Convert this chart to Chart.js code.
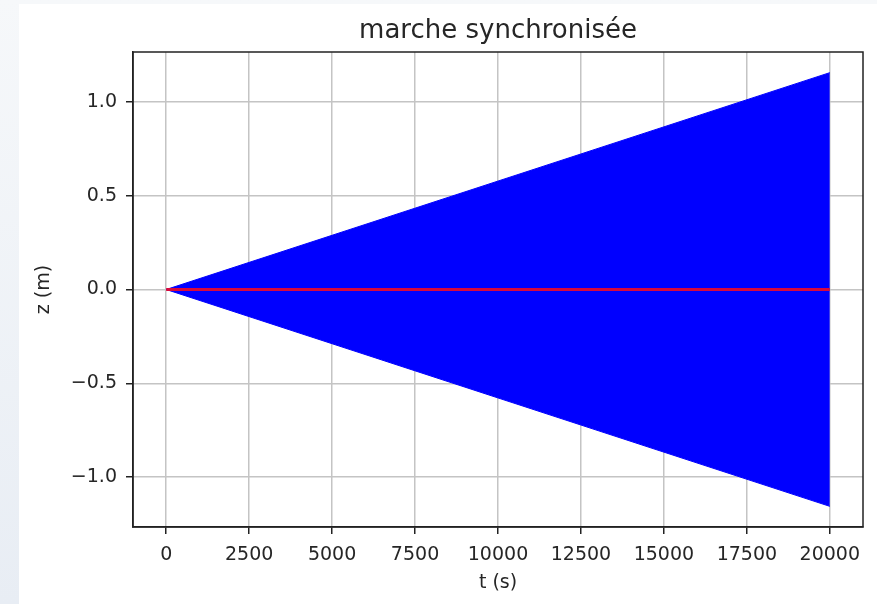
<!DOCTYPE html>
<html>
<head>
<meta charset="utf-8">
<script src="https://cdn.jsdelivr.net/npm/chart.js@4"></script>
<style>
  html, body { margin: 0; padding: 0; }
  body { width: 877px; height: 604px; background: linear-gradient(#f6f8fa, #e8edf4); overflow: hidden; }
  #wrap { position: absolute; left: 0; top: 0; width: 877px; height: 604px; }
</style>
</head>
<body>
<div id="wrap"><canvas id="chart" width="877" height="604"></canvas></div>
<script>
// envelope of z(t): amplitude grows from 0 to ~1.155 m over 20000 s
const tEnv = [0, 20000];
const zUpper = [0, 1.155];
const zLower = [0, -1.155];
const zRef = [0, 0];

const xTicks = [0, 2500, 5000, 7500, 10000, 12500, 15000, 17500, 20000];
const yTicks = [-1.0, -0.5, 0.0, 0.5, 1.0];

const chartTitle = 'marche synchronisée';

const pts = (xs, ys) => xs.map((x, i) => ({x: x, y: ys[i]}));

const font = 'DejaVu Sans';
const txt = '#262626';

// white panel behind the figure, box around the axes, title centred on the axes
const frame = {
  id: 'frame',
  beforeDraw(chart) {
    const c = chart.ctx;
    c.save();
    c.fillStyle = '#ffffff';
    c.fillRect(19, 4, chart.width - 19, chart.height - 4);
    c.restore();
  },
  afterDraw(chart) {
    const a = chart.chartArea;
    const c = chart.ctx;
    c.save();
    c.strokeStyle = '#222';
    c.lineWidth = 1.5;
    c.strokeRect(a.left, a.top, a.right - a.left, a.bottom - a.top);
    c.fillStyle = txt;
    c.font = '26px "' + font + '"';
    c.textAlign = 'center';
    c.textBaseline = 'middle';
    c.fillText(chartTitle, (a.left + a.right) / 2, 31);
    c.restore();
  }
};

new Chart(document.getElementById('chart'), {
  type: 'scatter',
  data: {
    datasets: [
      {
        data: pts(tEnv, zRef),
        showLine: true,
        borderColor: '#d8083c',
        borderWidth: 3,
        pointRadius: 0,
        fill: false,
        order: 0
      },
      {
        data: pts(tEnv, zUpper),
        showLine: true,
        borderColor: '#0000ff',
        backgroundColor: '#0000ff',
        borderWidth: 1,
        pointRadius: 0,
        fill: '+1',
        order: 1
      },
      {
        data: pts(tEnv, zLower),
        showLine: true,
        borderColor: '#0000ff',
        borderWidth: 1,
        pointRadius: 0,
        fill: false,
        order: 1
      }
    ]
  },
  options: {
    responsive: false,
    animation: false,
    layout: { padding: { left: 20, right: 14, top: 52, bottom: 6 } },
    plugins: {
      legend: { display: false },
      tooltip: { enabled: false },
      title: { display: false }
    },
    scales: {
      x: {
        type: 'linear',
        min: -1000,
        max: 21000,
        afterBuildTicks: s => { s.ticks = xTicks.map(v => ({value: v})); },
        afterFit: s => { s.height = 71; },
        ticks: {
          color: txt,
          font: { family: font, size: 19 },
          padding: 10,
          maxRotation: 0,
          callback: v => String(v)
        },
        grid: { color: '#c4c4c4', lineWidth: 1.5, tickColor: '#222', tickLength: 7 },
        border: { color: '#222', width: 1.5 },
        title: {
          display: true,
          text: 't (s)',
          color: txt,
          font: { family: font, size: 19 },
          padding: { top: 0, bottom: 4 }
        }
      },
      y: {
        type: 'linear',
        min: -1.265,
        max: 1.265,
        afterBuildTicks: s => { s.ticks = yTicks.map(v => ({value: v})); },
        afterFit: s => { s.width = 113; },
        ticks: {
          color: txt,
          font: { family: font, size: 19 },
          padding: 9,
          callback: v => v.toFixed(1).replace('-', '\u2212')
        },
        grid: { color: '#c4c4c4', lineWidth: 1.5, tickColor: '#222', tickLength: 7 },
        border: { color: '#222', width: 1.5 },
        title: {
          display: true,
          text: 'z (m)',
          color: txt,
          font: { family: font, size: 19 },
          padding: { top: 13, bottom: 0 }
        }
      }
    }
  },
  plugins: [frame]
});
</script>
</body>
</html>
